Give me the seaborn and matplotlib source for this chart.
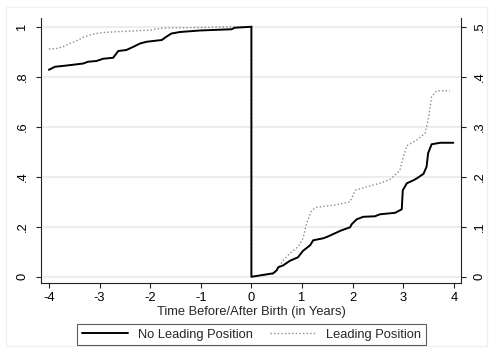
import matplotlib
matplotlib.use("Agg")
import matplotlib.pyplot as plt
import seaborn as sns
import pandas as pd
from matplotlib.lines import Line2D
from matplotlib.patches import Rectangle

# ---- data ----
# Before birth (left axis, 0..1)
pre_x = [-4.00, -3.88, -3.69, -3.32, -3.23, -3.06, -2.93, -2.73, -2.63, -2.47, -2.34,
         -2.20, -2.07, -1.77, -1.68, -1.58, -1.41, -1.02, -0.39, -0.33, 0.0]
pre_no_lead = [0.828, 0.840, 0.844, 0.853, 0.860, 0.863, 0.872, 0.876, 0.903, 0.907, 0.919,
               0.933, 0.940, 0.947, 0.960, 0.973, 0.979, 0.985, 0.990, 0.996, 1.0]
pre_lead_x = [-4.00, -3.85, -3.72, -3.59, -3.45, -3.32, -3.19, -3.06, -2.93, -2.66, -2.34,
              -2.00, -1.81, -1.68, -1.02, -0.36, 0.0]
pre_lead = [0.911, 0.913, 0.920, 0.933, 0.944, 0.958, 0.967, 0.973, 0.977, 0.980, 0.983,
            0.987, 0.993, 0.995, 0.997, 1.0, 1.0]

# After birth (right axis, 0..0.5)
post_x = [0.0, 0.0, 0.43, 0.50, 0.53, 0.63, 0.76, 0.92, 1.02, 1.16, 1.22, 1.42, 1.52, 1.65,
          1.78, 1.95, 1.98, 2.08, 2.21, 2.44, 2.54, 2.84, 2.97, 2.99, 3.07, 3.20, 3.27,
          3.40, 3.46, 3.49, 3.56, 3.73, 3.99]
post_no_lead = [0.5, 0.0, 0.007, 0.013, 0.019, 0.023, 0.032, 0.039, 0.052, 0.063, 0.073,
                0.077, 0.081, 0.087, 0.093, 0.099, 0.105, 0.115, 0.120, 0.121, 0.125,
                0.128, 0.135, 0.173, 0.187, 0.193, 0.197, 0.206, 0.220, 0.247, 0.265,
                0.268, 0.268]
post_lead_x = [0.0, 0.0, 0.45, 0.63, 0.76, 0.92, 1.02, 1.09, 1.19, 1.29, 1.62, 1.95, 2.05,
               2.28, 2.54, 2.74, 2.93, 3.00, 3.07, 3.26, 3.43, 3.49, 3.56, 3.66, 3.92]
post_lead = [0.5, 0.0, 0.006, 0.033, 0.047, 0.060, 0.077, 0.107, 0.133, 0.139, 0.143, 0.150,
             0.173, 0.180, 0.187, 0.195, 0.212, 0.240, 0.262, 0.273, 0.287, 0.313, 0.360,
             0.372, 0.372]

left_ticks = [0, 0.2, 0.4, 0.6, 0.8, 1.0]
left_labels = ["0", ".2", ".4", ".6", ".8", "1"]
right_ticks = [0, 0.1, 0.2, 0.3, 0.4, 0.5]
right_labels = ["0", ".1", ".2", ".3", ".4", ".5"]
x_ticks = [-4, -3, -2, -1, 0, 1, 2, 3, 4]
x_labels = ["-4", "-3", "-2", "-1", "0", "1", "2", "3", "4"]
series_names = ["No Leading Position", "Leading Position"]

# ---- style ----
sns.set_theme(style="white")
plt.rcParams["font.family"] = ["Liberation Sans", "DejaVu Sans"]
FS = 9.3
AX_COL = "#222222"

fig = plt.figure(figsize=(4.92, 3.49), dpi=100)
fig.patch.set_facecolor("white")
# faint outer border (Stata graph region)
fig.patches.append(Rectangle((5.5 / 492, 3 / 349), 1 - 11 / 492, 1 - 9.5 / 349,
                             transform=fig.transFigure, fill=False,
                             edgecolor="#f0f0f0", linewidth=1.0))

ax = fig.add_axes([41.3 / 492, 1 - 283.3 / 349, (461 - 41.3) / 492, (283.3 - 18) / 349])
ax2 = ax.twinx()

ylo, yhi = -0.026, 1.035
ax.set_ylim(ylo, yhi)
ax2.set_ylim(ylo / 2, yhi / 2)
ax.set_xlim(-4.15, 4.14)

for y in left_ticks:
    ax.axhline(y, color="#e8e8e8", linewidth=1.1, zorder=0)

DOT = dict(color="#8a8a8a", linewidth=1.0, linestyle=(0, (1, 1.6)))
SOL = dict(color="black", linewidth=1.4)

sns.lineplot(x=pre_lead_x, y=pre_lead, ax=ax, sort=False, estimator=None, **DOT)
sns.lineplot(x=post_lead_x, y=post_lead, ax=ax2, sort=False, estimator=None, **DOT)
sns.lineplot(x=pre_x, y=pre_no_lead, ax=ax, sort=False, estimator=None, **SOL)
sns.lineplot(x=post_x, y=post_no_lead, ax=ax2, sort=False, estimator=None, **SOL)

for a in (ax, ax2):
    a.spines["top"].set_visible(False)
    for s in a.spines.values():
        s.set_color(AX_COL)
        s.set_linewidth(0.8)
    a.grid(False)
    a.set_ylabel("")
ax.spines["right"].set_visible(False)
ax2.spines["left"].set_visible(False)
ax2.spines["bottom"].set_visible(False)

ax.set_yticks(left_ticks)
ax.set_yticklabels(left_labels, rotation=90, va="center", fontsize=FS)
ax2.set_yticks(right_ticks)
ax2.set_yticklabels(right_labels, rotation=90, va="center", fontsize=FS)
ax.set_xticks(x_ticks)
ax.set_xticklabels(x_labels, fontsize=FS)
ax.tick_params(axis="both", direction="out", length=3.3, width=0.8, color=AX_COL,
               labelcolor="black", left=True, bottom=True, pad=3)
ax.tick_params(axis="y", pad=6)
ax2.tick_params(axis="y", direction="out", length=3.3, width=0.8, color=AX_COL,
                labelcolor="black", right=True, pad=6)
ax.set_xlabel("Time Before/After Birth (in Years)", fontsize=FS, labelpad=1.5)

handles = [Line2D([], [], **SOL), Line2D([], [], **DOT)]
leg = fig.legend(handles, series_names, loc="center", bbox_to_anchor=(251.5 / 492, 1 - 334.5 / 349),
                 ncol=2, fontsize=FS, frameon=True, fancybox=False, handlelength=3.6,
                 handletextpad=0.7, columnspacing=1.4, borderpad=0.35, borderaxespad=0)
leg.get_frame().set_edgecolor("#333333")
leg.get_frame().set_linewidth(0.8)

fig.savefig("out.png", dpi=100, facecolor="white")
